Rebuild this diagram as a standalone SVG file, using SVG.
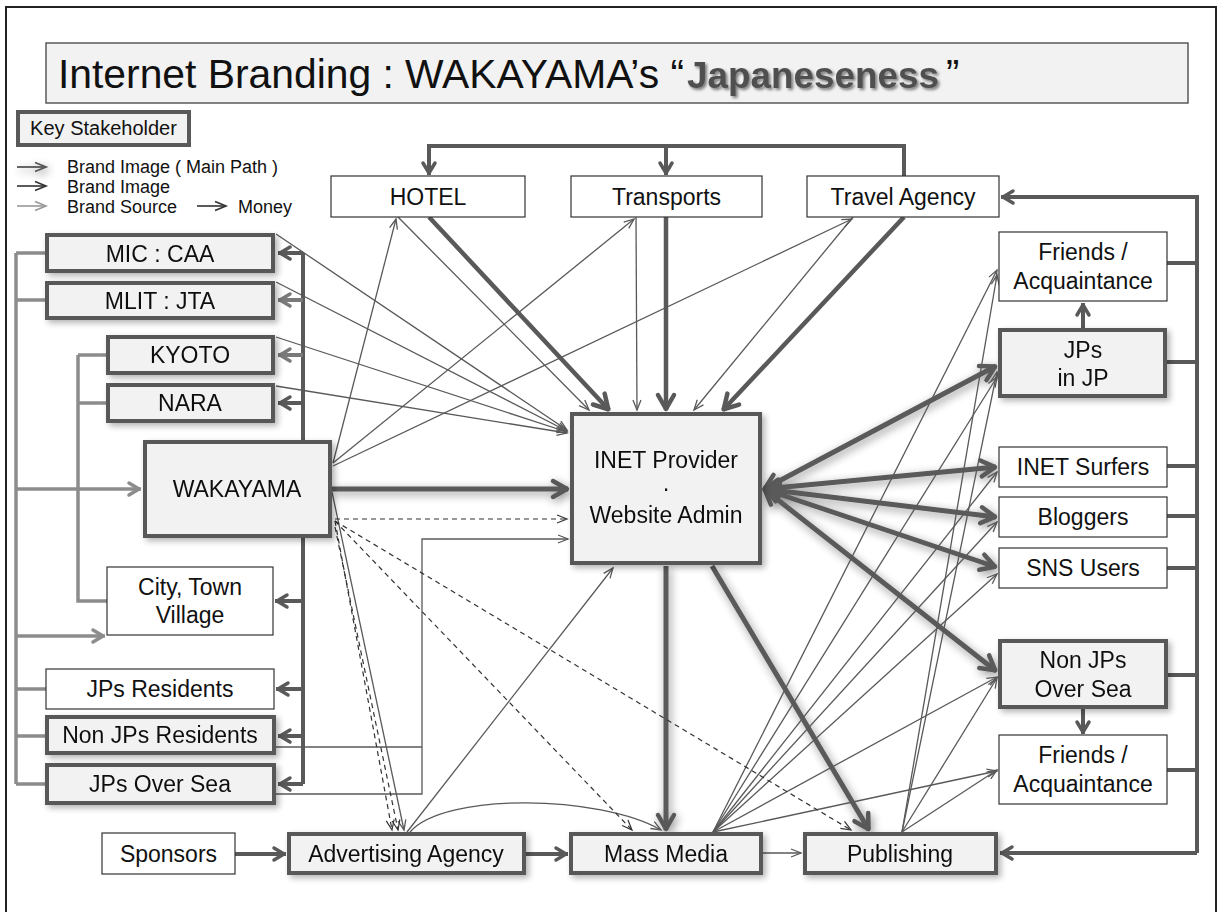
<svg xmlns="http://www.w3.org/2000/svg" width="1219" height="912" viewBox="0 0 1219 912">
  <defs>
    <style>
      text { font-family: "Liberation Sans", Arial, sans-serif; fill: #111; }
      .t { font-size: 23px; text-anchor: middle; }
      .lg { font-size: 18px; }
      .nb { fill: #f2f2f2; stroke: #595959; stroke-width: 4; }
      .nw { fill: #ffffff; stroke: #333; stroke-width: 1.2; }
      .gray { fill: none; stroke: #8c8c8c; stroke-width: 3.5; }
      .bus { fill: none; stroke: #595959; stroke-width: 4; }
      .thick { fill: none; stroke: #595959; stroke-width: 4.5; }
      .main { fill: none; stroke: #5a5a5a; stroke-width: 5; }
      .thin { fill: none; stroke: #595959; stroke-width: 1.3; }
      .dash { fill: none; stroke: #333; stroke-width: 1.2; stroke-dasharray: 5 4; }
    </style>
    <marker id="ahBig" markerUnits="userSpaceOnUse" viewBox="0 0 22 22" markerWidth="22" markerHeight="22" refX="19" refY="11" orient="auto-start-reverse" overflow="visible">
      <path d="M4,3 L18,11 L4,19" fill="none" stroke="#595959" stroke-width="4.5" stroke-linecap="round" stroke-linejoin="round"/>
    </marker>
    <marker id="ahFan" markerUnits="userSpaceOnUse" viewBox="0 0 22 22" markerWidth="22" markerHeight="22" refX="19" refY="11" orient="auto-start-reverse" overflow="visible">
      <path d="M4,3 L18,11 L4,19" fill="none" stroke="#5a5a5a" stroke-width="4.5" stroke-linecap="round" stroke-linejoin="round"/>
    </marker>
    <marker id="ahMid" markerUnits="userSpaceOnUse" viewBox="0 0 18 16" markerWidth="18" markerHeight="16" refX="16" refY="8" orient="auto" overflow="visible">
      <path d="M4,2 L14,8 L4,14" fill="none" stroke="#595959" stroke-width="3.5" stroke-linecap="round" stroke-linejoin="round"/>
    </marker>
    <marker id="ahMidGray" markerUnits="userSpaceOnUse" viewBox="0 0 18 16" markerWidth="18" markerHeight="16" refX="16" refY="8" orient="auto" overflow="visible">
      <path d="M4,2 L14,8 L4,14" fill="none" stroke="#7a7a7a" stroke-width="3.5" stroke-linecap="round" stroke-linejoin="round"/>
    </marker>
    <marker id="ahGray" markerUnits="userSpaceOnUse" viewBox="0 0 18 16" markerWidth="18" markerHeight="16" refX="16" refY="8" orient="auto" overflow="visible">
      <path d="M4,2 L14,8 L4,14" fill="none" stroke="#8c8c8c" stroke-width="3.5" stroke-linecap="round" stroke-linejoin="round"/>
    </marker>
    <marker id="ahThin" markerUnits="userSpaceOnUse" viewBox="0 0 12 10" markerWidth="12" markerHeight="10" refX="11" refY="5" orient="auto" overflow="visible">
      <path d="M1,1 L11,5 L1,9" fill="none" stroke="#595959" stroke-width="1.3"/>
    </marker>
    <marker id="ahDash" markerUnits="userSpaceOnUse" viewBox="0 0 12 10" markerWidth="12" markerHeight="10" refX="11" refY="5" orient="auto" overflow="visible">
      <path d="M1,1 L11,5 L1,9" fill="none" stroke="#333" stroke-width="1.2"/>
    </marker>
    <marker id="lgDark" markerUnits="userSpaceOnUse" viewBox="0 0 13 11" markerWidth="13" markerHeight="11" refX="12" refY="5.5" orient="auto" overflow="visible">
      <path d="M1,1 L12,5.5 L1,10" fill="none" stroke="#333" stroke-width="1.6"/>
    </marker>
    <marker id="lgMain" markerUnits="userSpaceOnUse" viewBox="0 0 13 11" markerWidth="13" markerHeight="11" refX="12" refY="5.5" orient="auto" overflow="visible">
      <path d="M1,1 L12,5.5 L1,10" fill="none" stroke="#555" stroke-width="1.8"/>
    </marker>
    <marker id="lgGray" markerUnits="userSpaceOnUse" viewBox="0 0 13 11" markerWidth="13" markerHeight="11" refX="12" refY="5.5" orient="auto" overflow="visible">
      <path d="M1,1 L12,5.5 L1,10" fill="none" stroke="#999" stroke-width="1.6"/>
    </marker>
    <!-- soft halo behind the main brand-image paths -->
    <filter id="glow" filterUnits="userSpaceOnUse" x="0" y="0" width="1219" height="912">
      <feGaussianBlur in="SourceAlpha" stdDeviation="5" result="b"/>
      <feOffset in="b" dx="2" dy="3" result="o"/>
      <feComponentTransfer in="o" result="s"><feFuncA type="linear" slope="0.45"/></feComponentTransfer>
      <feMerge><feMergeNode in="s"/><feMergeNode in="SourceGraphic"/></feMerge>
    </filter>
    <filter id="shadow" filterUnits="userSpaceOnUse" x="0" y="0" width="1219" height="912">
      <feGaussianBlur in="SourceAlpha" stdDeviation="3" result="b"/>
      <feOffset in="b" dx="3" dy="3" result="o"/>
      <feComponentTransfer in="o" result="s"><feFuncA type="linear" slope="0.3"/></feComponentTransfer>
      <feMerge><feMergeNode in="s"/><feMergeNode in="SourceGraphic"/></feMerge>
    </filter>
    <filter id="txtShadow" x="-10%" y="-30%" width="120%" height="160%">
      <feGaussianBlur in="SourceAlpha" stdDeviation="1.5" result="b"/>
      <feOffset in="b" dx="2" dy="2" result="o"/>
      <feComponentTransfer in="o" result="s"><feFuncA type="linear" slope="0.5"/></feComponentTransfer>
      <feMerge><feMergeNode in="s"/><feMergeNode in="SourceGraphic"/></feMerge>
    </filter>
  </defs>

  <rect x="0" y="0" width="1219" height="912" fill="#fff"/>
  <rect x="6" y="7" width="1210" height="940" fill="none" stroke="#222" stroke-width="2"/>

  <!-- title -->
  <g id="title">
    <rect x="46" y="43" width="1142" height="60" fill="#f2f2f2" stroke="#595959" stroke-width="1.5"/>
    <text x="58" y="88" font-size="40" textLength="626" lengthAdjust="spacingAndGlyphs">Internet Branding : WAKAYAMA’s “</text>
    <text x="687" y="88" font-size="37" font-weight="bold" textLength="252" lengthAdjust="spacingAndGlyphs" style="fill:#505050" filter="url(#txtShadow)">Japaneseness</text>
    <text x="946" y="88" font-size="40">”</text>
  </g>

  <!-- legend -->
  <g id="legend">
    <rect x="18" y="112" width="171" height="33" class="nb"/>
    <text x="103.5" y="135" font-size="20" text-anchor="middle">Key Stakeholder</text>
    <path d="M17,167 H46" fill="none" stroke="#555" stroke-width="1.8" marker-end="url(#lgMain)" filter="url(#glow)"/>
    <path d="M17,186 H46" fill="none" stroke="#333" stroke-width="1.6" marker-end="url(#lgDark)"/>
    <path d="M17,206 H46" fill="none" stroke="#999" stroke-width="1.6" marker-end="url(#lgGray)"/>
    <path d="M197,206 H226" fill="none" stroke="#333" stroke-width="1.6" marker-end="url(#lgDark)"/>
    <text class="lg" x="67" y="173">Brand Image ( Main Path )</text>
    <text class="lg" x="67" y="193">Brand Image</text>
    <text class="lg" x="67" y="213">Brand Source</text>
    <text class="lg" x="238" y="213">Money</text>
  </g>

  <g id="connectors">
    <!-- brand source buses (left) -->
    <path class="gray" d="M16,253 V784 M16,253 H45 M16,300 H45 M16,689 H46 M16,736 H45 M16,784 H45"/>
    <path class="gray" d="M78,355 V601 H107 M78,355 H106 M78,403 H106"/>
    <path class="gray" d="M16,489 H141" marker-end="url(#ahGray)"/>
    <path class="gray" d="M16,636 H105" marker-end="url(#ahGray)"/>

    <!-- WAKAYAMA distribution bus -->
    <path class="bus" d="M303,442 V253 M303,538 V784"/>
    <path class="bus" d="M303,253 H278" marker-end="url(#ahMid)"/>
    <path class="bus" d="M303,300 H278" style="stroke:#7a7a7a" marker-end="url(#ahMidGray)"/>
    <path class="bus" d="M303,355 H278" style="stroke:#7a7a7a" marker-end="url(#ahMidGray)"/>
    <path class="bus" d="M303,403 H278" marker-end="url(#ahMid)"/>
    <path class="bus" d="M303,601 H275" marker-end="url(#ahMid)"/>
    <path class="bus" d="M303,689 H276" marker-end="url(#ahMid)"/>
    <path class="bus" d="M303,736 H278" marker-end="url(#ahMid)"/>
    <path class="bus" d="M303,784 H278" marker-end="url(#ahMid)"/>

    <!-- top loop -->
    <path class="bus" d="M904,176 V146 H429 V175" marker-end="url(#ahMid)"/>
    <path class="bus" d="M666,146 V175" marker-end="url(#ahMid)"/>

    <!-- right bus -->
    <path class="bus" d="M1197,853 V197 H1001" marker-end="url(#ahMid)"/>
    <path class="bus" d="M1197,853 H1000" marker-end="url(#ahMid)"/>
    <path class="bus" d="M1167,263 H1197 M1166,362 H1197 M1167,466 H1197 M1167,516 H1197 M1167,568 H1197 M1166,675 H1197 M1167,770 H1197"/>
    <path class="bus" d="M1083,330 V303" marker-end="url(#ahMid)"/>
    <path class="bus" d="M1083,707 V734" marker-end="url(#ahMid)"/>

    <!-- bottom row -->
    <path class="bus" d="M235,854 H286" marker-end="url(#ahMid)"/>
    <path class="bus" d="M526,854 H568" marker-end="url(#ahMid)"/>

    <!-- thick flows from travel trade into the provider -->
    <path class="thick" d="M429,217 L609,410" marker-end="url(#ahBig)"/>
    <path class="thick" d="M666,217 V410" marker-end="url(#ahBig)"/>
    <path class="thick" d="M904,217 L723,410" marker-end="url(#ahBig)"/>

    <!-- main brand-image paths -->
    <g filter="url(#glow)">
      <path class="main" d="M332,489 H568" marker-end="url(#ahBig)"/>
      <path class="main" d="M666,566 V830" marker-end="url(#ahBig)"/>
      <path class="main" d="M712,566 L869,830" marker-end="url(#ahBig)"/>
      <path class="main" d="M764,489 L996,366" marker-start="url(#ahFan)" marker-end="url(#ahFan)"/>
      <path class="main" d="M764,489 L996,467" marker-start="url(#ahFan)" marker-end="url(#ahFan)"/>
      <path class="main" d="M764,489 L996,517" marker-start="url(#ahFan)" marker-end="url(#ahFan)"/>
      <path class="main" d="M764,489 L996,567" marker-start="url(#ahFan)" marker-end="url(#ahFan)"/>
      <path class="main" d="M764,489 L996,671" marker-start="url(#ahFan)" marker-end="url(#ahFan)"/>
    </g>

    <!-- brand image (thin) -->
    <path class="thin" d="M276,234 L567,430" marker-end="url(#ahThin)"/>
    <path class="thin" d="M276,282 L567,431" marker-end="url(#ahThin)"/>
    <path class="thin" d="M276,337 L567,432" marker-end="url(#ahThin)"/>
    <path class="thin" d="M276,386 L567,433" marker-end="url(#ahThin)"/>
    <path class="thin" d="M333,463 L396,219" marker-end="url(#ahThin)"/>
    <path class="thin" d="M333,463 L634,219" marker-end="url(#ahThin)"/>
    <path class="thin" d="M333,466 L852,219" marker-end="url(#ahThin)"/>
    <path class="thin" d="M398,217 L589,410" marker-end="url(#ahThin)"/>
    <path class="thin" d="M636,217 L637,410" marker-end="url(#ahThin)"/>
    <path class="thin" d="M853,217 L694,410" marker-end="url(#ahThin)"/>
    <path class="thin" d="M407,832 L613,568" marker-end="url(#ahThin)"/>
    <path class="thin" d="M332,492 L404,830" marker-end="url(#ahThin)"/>
    <path class="thin" d="M276,747 H422"/>
    <path class="thin" d="M276,794 H422 V539 H568" marker-end="url(#ahThin)"/>
    <path class="thin" d="M763,853 H801" marker-end="url(#ahThin)"/>
    <path class="thin" d="M410,832 C445,792 600,795 661,830" marker-end="url(#ahThin)"/>

    <!-- mass media fan -->
    <path class="thin" d="M713,832 L997,270" marker-end="url(#ahThin)"/>
    <path class="thin" d="M713,832 L997,377" marker-end="url(#ahThin)"/>
    <path class="thin" d="M713,832 L997,472" marker-end="url(#ahThin)"/>
    <path class="thin" d="M713,832 L997,522" marker-end="url(#ahThin)"/>
    <path class="thin" d="M713,832 L997,574" marker-end="url(#ahThin)"/>
    <path class="thin" d="M713,832 L997,677" marker-end="url(#ahThin)"/>
    <path class="thin" d="M713,832 L997,771" marker-end="url(#ahThin)"/>
    <!-- publishing fan -->
    <path class="thin" d="M902,832 L997,275" marker-end="url(#ahThin)"/>
    <path class="thin" d="M902,832 L997,372" marker-end="url(#ahThin)"/>
    <path class="thin" d="M902,832 L997,678" marker-end="url(#ahThin)"/>
    <path class="thin" d="M902,832 L997,770" marker-end="url(#ahThin)"/>

    <!-- money -->
    <path class="dash" d="M335,519 H567" marker-end="url(#ahDash)"/>
    <path class="dash" d="M335,521 L392,830" marker-end="url(#ahDash)"/>
    <path class="dash" d="M335,527 L398,830" marker-end="url(#ahDash)"/>
    <path class="dash" d="M335,521 L632,830" marker-end="url(#ahDash)"/>
    <path class="dash" d="M335,521 L851,830" marker-end="url(#ahDash)"/>
  </g>

  <!-- nodes -->
  <g id="hotel"><rect class="nw" x="331" y="176" width="194" height="41"/><text class="t" x="428" y="205">HOTEL</text></g>
  <g id="transports"><rect class="nw" x="571" y="176" width="191" height="41"/><text class="t" x="666.5" y="205">Transports</text></g>
  <g id="travel-agency"><rect class="nw" x="807" y="176" width="192" height="41"/><text class="t" x="903" y="205">Travel Agency</text></g>

  <g id="mic-caa" filter="url(#shadow)"><rect class="nb" x="47" y="235" width="226" height="36"/><text class="t" x="160" y="262">MIC : CAA</text></g>
  <g id="mlit-jta" filter="url(#shadow)"><rect class="nb" x="47" y="283" width="226" height="35"/><text class="t" x="160" y="309">MLIT : JTA</text></g>
  <g id="kyoto" filter="url(#shadow)"><rect class="nb" x="108" y="337" width="165" height="36"/><text class="t" x="190" y="363">KYOTO</text></g>
  <g id="nara" filter="url(#shadow)"><rect class="nb" x="108" y="385" width="165" height="36"/><text class="t" x="190" y="411">NARA</text></g>
  <g id="wakayama" filter="url(#shadow)"><rect class="nb" x="145" y="442" width="185" height="94"/><text class="t" x="237" y="497">WAKAYAMA</text></g>
  <g id="city-town-village"><rect class="nw" x="107" y="567" width="166" height="68"/><text class="t" x="190" y="595">City, Town</text><text class="t" x="190" y="623">Village</text></g>
  <g id="jps-residents"><rect class="nw" x="46" y="669" width="228" height="40"/><text class="t" x="160" y="697">JPs Residents</text></g>
  <g id="non-jps-residents" filter="url(#shadow)"><rect class="nb" x="47" y="717" width="227" height="36"/><text class="t" x="160" y="743">Non JPs Residents</text></g>
  <g id="jps-over-sea" filter="url(#shadow)"><rect class="nb" x="47" y="765" width="227" height="38"/><text class="t" x="160" y="792">JPs Over Sea</text></g>

  <g id="inet-provider" filter="url(#shadow)"><rect class="nb" x="572" y="414" width="188" height="149"/><text class="t" x="666" y="468">INET Provider</text><text class="t" x="666" y="496">·</text><text class="t" x="666" y="523">Website Admin</text></g>

  <g id="sponsors"><rect class="nw" x="102" y="833" width="133" height="41"/><text class="t" x="168.5" y="862">Sponsors</text></g>
  <g id="advertising-agency" filter="url(#shadow)"><rect class="nb" x="289" y="834" width="235" height="39"/><text class="t" x="406" y="862">Advertising Agency</text></g>
  <g id="mass-media" filter="url(#shadow)"><rect class="nb" x="571" y="834" width="190" height="39"/><text class="t" x="666" y="862">Mass Media</text></g>
  <g id="publishing" filter="url(#shadow)"><rect class="nb" x="805" y="834" width="191" height="39"/><text class="t" x="900" y="862">Publishing</text></g>

  <g id="friends-jp"><rect class="nw" x="999" y="232" width="168" height="69"/><text class="t" x="1083" y="260">Friends /</text><text class="t" x="1083" y="289">Acquaintance</text></g>
  <g id="jps-in-jp" filter="url(#shadow)"><rect class="nb" x="1000" y="330" width="165" height="66"/><text class="t" x="1083" y="358">JPs</text><text class="t" x="1083" y="386">in JP</text></g>
  <g id="inet-surfers"><rect class="nw" x="999" y="447" width="168" height="40"/><text class="t" x="1083" y="475">INET Surfers</text></g>
  <g id="bloggers"><rect class="nw" x="999" y="497" width="168" height="40"/><text class="t" x="1083" y="525">Bloggers</text></g>
  <g id="sns-users"><rect class="nw" x="999" y="548" width="168" height="40"/><text class="t" x="1083" y="576">SNS Users</text></g>
  <g id="non-jps-over-sea" filter="url(#shadow)"><rect class="nb" x="1000" y="641" width="166" height="66"/><text class="t" x="1083" y="668">Non JPs</text><text class="t" x="1083" y="697">Over Sea</text></g>
  <g id="friends-over-sea"><rect class="nw" x="999" y="735" width="168" height="69"/><text class="t" x="1083" y="763">Friends /</text><text class="t" x="1083" y="792">Acquaintance</text></g>
</svg>
